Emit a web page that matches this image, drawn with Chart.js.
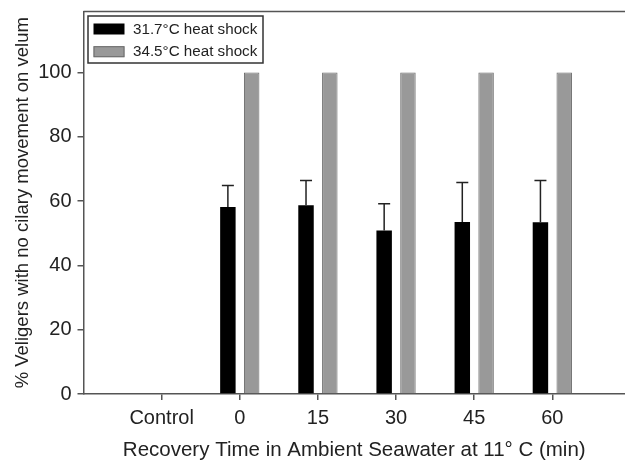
<!doctype html>
<html lang="en">
<head>
<meta charset="utf-8" />
<title>Veliger ciliary movement after heat shock</title>
<script src="https://cdn.jsdelivr.net/npm/chart.js@4.4.4/dist/chart.umd.min.js"></script>
<style>
  html, body { margin: 0; padding: 0; background: #fff; overflow: hidden; }
  #wrap { width: 625px; height: 463px; }
</style>
</head>
<body>
<div id="wrap"><canvas id="chart"></canvas></div>
<script>
// values (SigmaPlot style grouped bars, upper SD only on 31.7°C)
const xPositions = [0, 1, 2, 3, 4, 5];
const xLabels = ["Control", "0", "15", "30", "45", "60"];
const yTicks = [0, 20, 40, 60, 80, 100];
const mild = [null, 58.2, 58.7, 50.9, 53.5, 53.4];
const mildErr = [null, 6.7, 7.7, 8.3, 12.3, 13.0];
const severe = [null, 100, 100, 100, 100, 100];
const seriesLabels = ["31.7°C heat shock", "34.5°C heat shock"];

const FONT = "'Liberation Sans', Arial, sans-serif";
const INK = "#222";
const FRAME = "#555";
const GRAY = "#999";
const GRAY_EDGE = "#6b6b6b";

const toPoints = (vals) => xPositions.map((x, i) => ({ x, y: vals[i] }));

// upward error bars with caps on the black series
const errorBars = {
  id: "errorBars",
  afterDatasetsDraw(chart) {
    const { ctx, scales } = chart;
    const meta = chart.getDatasetMeta(0);
    ctx.save();
    ctx.strokeStyle = INK;
    ctx.lineWidth = 1.5;
    meta.data.forEach((bar, i) => {
      if (mild[i] == null) return;
      const yTop = scales.y.getPixelForValue(mild[i] + mildErr[i]);
      ctx.beginPath();
      ctx.moveTo(bar.x, bar.y);
      ctx.lineTo(bar.x, yTop);
      ctx.moveTo(bar.x - 6, yTop);
      ctx.lineTo(bar.x + 6, yTop);
      ctx.stroke();
    });
    ctx.restore();
  },
};

// top frame line + boxed legend in the upper-left corner
const frameAndLegend = {
  id: "frameAndLegend",
  afterDraw(chart) {
    const { ctx, chartArea: ca } = chart;
    ctx.save();
    ctx.strokeStyle = FRAME;
    ctx.lineWidth = 1.5;
    ctx.beginPath();
    ctx.moveTo(ca.left, ca.top);
    ctx.lineTo(ca.right, ca.top);
    ctx.stroke();

    const bx = ca.left + 4.5, by = ca.top + 4.5;
    ctx.fillStyle = "#fff";
    ctx.fillRect(bx, by, 175, 47);
    ctx.strokeStyle = "#333";
    ctx.strokeRect(bx, by, 175, 47);

    ctx.font = "15.2px " + FONT;
    ctx.textBaseline = "middle";
    chart.data.datasets.forEach((ds, i) => {
      const sy = ca.top + 12 + i * 22.7;
      ctx.fillStyle = ds.backgroundColor;
      ctx.fillRect(ca.left + 10, sy, 31, 11);
      if (ds.borderWidth) {
        ctx.lineWidth = 1;
        ctx.strokeStyle = ds.borderColor;
        ctx.strokeRect(ca.left + 10.5, sy + 0.5, 30, 10);
      }
      ctx.fillStyle = INK;
      ctx.fillText(ds.label, ca.left + 49.5, sy + 6);
    });
    ctx.restore();
  },
};

new Chart(document.getElementById("chart"), {
  type: "bar",
  data: {
    datasets: [
      {
        label: seriesLabels[0],
        data: toPoints(mild),
        backgroundColor: "#000",
        borderWidth: 0,
      },
      {
        label: seriesLabels[1],
        data: toPoints(severe),
        backgroundColor: GRAY,
        borderColor: GRAY_EDGE,
        borderWidth: 1,
      },
    ],
  },
  options: {
    animation: false,
    responsive: true,
    maintainAspectRatio: false,
    categoryPercentage: 0.609,
    barPercentage: 0.65,
    layout: { padding: { top: 11.5, right: 0, left: 0, bottom: 0 } },
    scales: {
      x: {
        type: "linear",
        min: -1,
        max: 5.93,
        offset: false,
        afterBuildTicks: (axis) => { axis.ticks = xPositions.map((v) => ({ value: v })); },
        afterFit: (axis) => { axis.height = 69; axis.paddingLeft = 0; axis.paddingRight = 0; },
        ticks: {
          autoSkip: false,
          maxRotation: 0,
          padding: 6,
          color: INK,
          font: { family: FONT, size: 20 },
          callback: (v) => xLabels[xPositions.indexOf(v)] ?? "",
        },
        grid: { offset: false, drawOnChartArea: false, drawTicks: true, tickLength: 6, color: FRAME, lineWidth: 1.5 },
        border: { display: true, color: FRAME, width: 1.5 },
        title: {
          display: true,
          text: "Recovery Time in Ambient Seawater at 11° C (min)",
          color: INK,
          font: { family: FONT, size: 20.5 },
          padding: { top: 0, bottom: 0 },
        },
      },
      y: {
        min: 0,
        max: 119,
        afterBuildTicks: (axis) => { axis.ticks = yTicks.map((v) => ({ value: v })); },
        afterFit: (axis) => { axis.width = 83.5; axis.paddingTop = 0; axis.paddingBottom = 0; },
        ticks: { padding: 6, color: INK, font: { family: FONT, size: 20 } },
        grid: { drawOnChartArea: false, drawTicks: true, tickLength: 6, color: FRAME, lineWidth: 1.5 },
        border: { display: true, color: FRAME, width: 1.5 },
        title: {
          display: true,
          text: "% Veligers with no cilary movement on velum",
          color: INK,
          font: { family: FONT, size: 18.5 },
          padding: { top: 12, bottom: 0 },
        },
      },
    },
    plugins: {
      legend: { display: false },
      tooltip: { enabled: false },
    },
  },
  plugins: [errorBars, frameAndLegend],
});
</script>
</body>
</html>
